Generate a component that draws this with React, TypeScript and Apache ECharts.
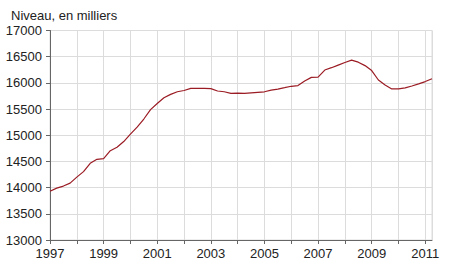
import React, { useEffect, useRef } from "react";
import * as echarts from "echarts";

const years: number[] = [];
for (let i = 0; i < 58; i++) years.push(1997 + i * 0.25);

const values: number[] = [
  13930, 13990, 14030, 14085,
  14200, 14305, 14465, 14540,
  14555, 14705, 14770, 14880,
  15020, 15155, 15310, 15490,
  15605, 15715, 15780, 15830,
  15855, 15895, 15895, 15895,
  15890, 15845, 15830, 15800,
  15805, 15800, 15810, 15820,
  15830, 15862, 15882, 15908,
  15935, 15948, 16035, 16105,
  16110, 16245, 16290, 16340,
  16390, 16435, 16395, 16330,
  16235, 16055, 15960, 15885,
  15885, 15905, 15940, 15980,
  16025, 16080,
];

const xLabelYears = [1997, 1999, 2001, 2003, 2005, 2007, 2009, 2011];
const titleText = "Niveau, en milliers";

export default function App() {
  const ref = useRef<HTMLDivElement>(null);
  useEffect(() => {
    if (!ref.current) return;
    const chart = echarts.init(ref.current, null, { renderer: "svg" });
    const font = "'Liberation Sans', Arial, sans-serif";
    chart.setOption({
      animation: false,
      title: {
        text: titleText,
        left: 6,
        top: 4,
        textStyle: { fontSize: 13, fontWeight: "normal", color: "#222", fontFamily: font },
      },
      grid: {
        left: 50,
        right: 18,
        top: 30.5,
        bottom: 40,
        show: true,
        borderColor: "#dcdcdc",
        borderWidth: 1,
      },
      xAxis: {
        type: "value",
        min: 1997,
        max: 2011.25,
        interval: 1,
        axisLine: { show: true, lineStyle: { color: "#666", width: 1 } },
        axisTick: { show: true, length: 4, lineStyle: { color: "#666" } },
        splitLine: { show: true, lineStyle: { color: "#dcdcdc", width: 1 } },
        axisLabel: {
          margin: 7,
          fontSize: 13,
          color: "#222",
          fontFamily: font,
          showMaxLabel: false,
          formatter: (v: number) => (xLabelYears.includes(Math.round(v)) && Math.abs(v - Math.round(v)) < 1e-6 ? String(Math.round(v)) : ""),
        },
      },
      yAxis: {
        type: "value",
        min: 13000,
        max: 17000,
        interval: 500,
        axisLine: { show: true, lineStyle: { color: "#666", width: 1 } },
        axisTick: { show: true, length: 4, lineStyle: { color: "#666" } },
        splitLine: { show: true, lineStyle: { color: "#dcdcdc", width: 1 } },
        axisLabel: { margin: 8, fontSize: 13, color: "#222", fontFamily: font, formatter: (v: number) => String(v) },
      },
      series: [
        {
          type: "line",
          data: years.map((y, i) => [y, values[i]]),
          showSymbol: false,
          lineStyle: { color: "#9b1c24", width: 1.2 },
          itemStyle: { color: "#9b1c24" },
        },
      ],
    });
    return () => chart.dispose();
  }, []);
  return <div ref={ref} style={{ width: 450, height: 280, position: "absolute", left: 0, top: 0 }} />;
}
